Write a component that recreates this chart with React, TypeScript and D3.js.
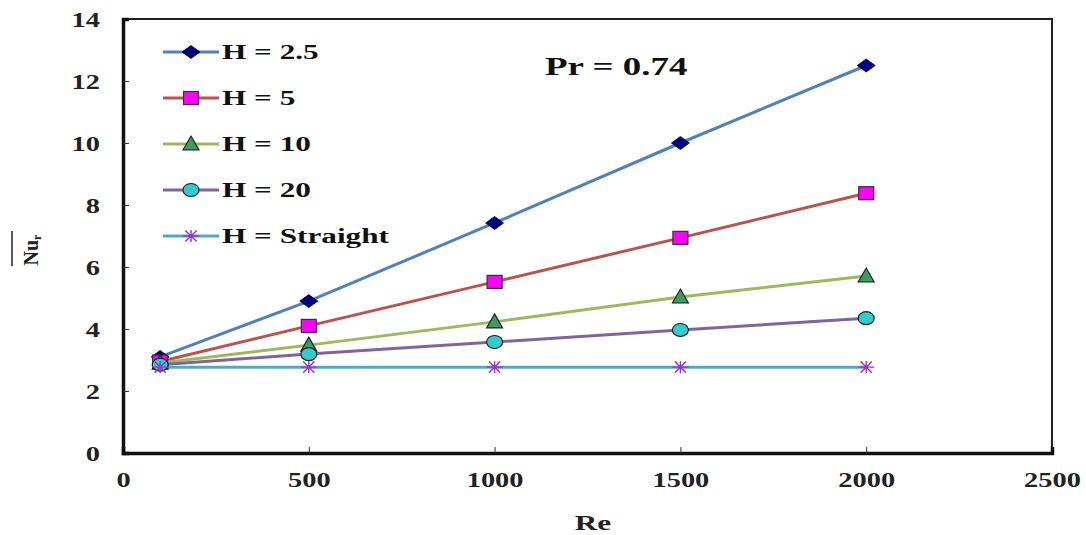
import { useEffect, useRef } from 'react'
import * as d3 from 'd3'

const reValues = [100, 500, 1000, 1500, 2000]
const seriesNames = ['H = 2.5', 'H = 5', 'H = 10', 'H = 20', 'H = Straight']
const nuH25 = [3.1, 4.9, 7.42, 10.0, 12.5]
const nuH5 = [2.95, 4.1, 5.52, 6.94, 8.38]
const nuH10 = [2.9, 3.48, 4.23, 5.03, 5.71]
const nuH20 = [2.85, 3.19, 3.58, 3.97, 4.35]
const nuStraight = [2.77, 2.77, 2.77, 2.77, 2.77]
const xTicks = [0, 500, 1000, 1500, 2000, 2500]
const yTicks = [0, 2, 4, 6, 8, 10, 12, 14]

const lineColors = ['#4F81BD', '#C0504D', '#9BBB59', '#8064A2', '#4BACC6']
const markerKinds = ['diamond', 'square', 'triangle', 'circle', 'asterisk']

const width = 1086
const height = 535
const margin = { top: 19, right: 34, bottom: 82, left: 123 }
const font = 'Liberation Serif, DejaVu Serif, serif'
// the original picture is stretched sideways, so text is widened too
const sx = 1.42

function drawMarker(g: d3.Selection<SVGGElement, unknown, null, undefined>, kind: string, x: number, y: number) {
  if (kind === 'diamond') {
    g.append('path')
      .attr('d', `M${x - 9},${y}L${x},${y - 6.5}L${x + 9},${y}L${x},${y + 6.5}Z`)
      .attr('fill', '#000080').attr('stroke', '#000040').attr('stroke-width', 0.8)
  } else if (kind === 'square') {
    g.append('rect')
      .attr('x', x - 7.5).attr('y', y - 6.5).attr('width', 15).attr('height', 13)
      .attr('fill', '#FF00FF').attr('stroke', '#333').attr('stroke-width', 1.2)
  } else if (kind === 'triangle') {
    g.append('path')
      .attr('d', `M${x},${y - 8}L${x + 8},${y + 6}L${x - 8},${y + 6}Z`)
      .attr('fill', '#3E9B63').attr('stroke', '#1a1a1a').attr('stroke-width', 1.1)
  } else if (kind === 'circle') {
    g.append('ellipse')
      .attr('cx', x).attr('cy', y).attr('rx', 8).attr('ry', 6.5)
      .attr('fill', '#33CCCC').attr('stroke', '#1a1a1a').attr('stroke-width', 1.1)
  } else {
    const r = 8
    const p = `M${x - r},${y}L${x + r},${y}M${x - r * 0.7},${y - r * 0.7}L${x + r * 0.7},${y + r * 0.7}M${x - r * 0.7},${y + r * 0.7}L${x + r * 0.7},${y - r * 0.7}M${x},${y - r * 0.75}L${x},${y + r * 0.75}`
    g.append('path').attr('d', p).attr('stroke', '#9933CC').attr('stroke-width', 1.4).attr('fill', 'none')
  }
}

export default function App() {
  const svgRef = useRef<SVGSVGElement>(null)

  useEffect(() => {
    if (!svgRef.current) return
    const svg = d3.select(svgRef.current)
    svg.selectAll('*').remove()

    const innerWidth = width - margin.left - margin.right
    const innerHeight = height - margin.top - margin.bottom
    const allSeries = [nuH25, nuH5, nuH10, nuH20, nuStraight]

    const x = d3.scaleLinear().domain([0, 2500]).range([0, innerWidth])
    const y = d3.scaleLinear().domain([0, 14]).range([innerHeight, 0])

    const g = svg.append('g')
      .attr('transform', `translate(${margin.left},${margin.top})`)

    // frame
    g.append('rect')
      .attr('width', innerWidth).attr('height', innerHeight)
      .attr('fill', 'none').attr('stroke', '#222').attr('stroke-width', 2)

    const xAxis = g.append('g')
      .attr('transform', `translate(0,${innerHeight})`)
      .call(d3.axisBottom(x).tickValues(xTicks).tickSize(-6).tickFormat(d3.format('d')))
    xAxis.select('.domain').attr('stroke', '#111').attr('stroke-width', 3.5)
    xAxis.selectAll('.tick text')
      .attr('y', null).attr('dy', null)
      .attr('transform', `translate(0,34) scale(${sx},1)`)

    const yAxis = g.append('g')
      .call(d3.axisLeft(y).tickValues(yTicks).tickSize(-6).tickFormat(d3.format('d')))
    yAxis.select('.domain').attr('stroke', '#111').attr('stroke-width', 3.5)
    yAxis.selectAll('.tick text')
      .attr('x', null).attr('dy', null)
      .attr('transform', `translate(-23,7) scale(${sx},1)`)

    svg.selectAll('.tick line').attr('stroke', '#333').attr('stroke-width', 1)
    svg.selectAll('.tick text')
      .attr('font-family', font).attr('font-size', 20).attr('font-weight', 'bold').attr('fill', '#222')
    xAxis.selectAll('.tick').filter((d: any) => d === 0 || d === 2500).select('line').remove()
    yAxis.selectAll('.tick').filter((d: any) => d === 0 || d === 14).select('line').remove()

    const line = d3.line<number>()
      .x((_, i) => x(reValues[i]))
      .y(d => y(d))

    allSeries.forEach((vals, si) => {
      g.append('path')
        .datum(vals)
        .attr('d', line)
        .attr('fill', 'none')
        .attr('stroke', lineColors[si])
        .attr('stroke-width', 3)
    })
    allSeries.forEach((vals, si) => {
      const mg = g.append('g')
      vals.forEach((v, i) => drawMarker(mg, markerKinds[si], x(reValues[i]), y(v)))
    })

    // legend
    const lg = svg.append('g').attr('transform', 'translate(163,52)')
    seriesNames.forEach((name, i) => {
      const row = lg.append('g').attr('transform', `translate(0,${i * 46})`)
      row.append('line').attr('x1', 0).attr('x2', 56).attr('y1', 0).attr('y2', 0)
        .attr('stroke', lineColors[i]).attr('stroke-width', 3)
      drawMarker(row, markerKinds[i], 28, 0)
      row.append('text').attr('transform', `translate(59,7) scale(${sx},1)`)
        .attr('font-family', font).attr('font-size', 22).attr('font-weight', 'bold').attr('fill', '#111')
        .text(name)
    })

    svg.append('text').attr('transform', `translate(545,75) scale(${sx},1)`)
      .attr('font-family', font).attr('font-size', 26).attr('font-weight', 'bold').attr('fill', '#111')
      .text('Pr = 0.74')

    svg.append('text').attr('transform', `translate(593,530) scale(${sx},1)`)
      .attr('font-family', font).attr('font-size', 22).attr('font-weight', 'bold').attr('fill', '#222')
      .attr('text-anchor', 'middle')
      .text('Re')

    // y label: Nu with overbar, subscript r
    const yl = svg.append('text')
      .attr('transform', 'translate(38,250) rotate(-90)')
      .attr('font-family', font).attr('font-size', 20).attr('font-weight', 'bold').attr('fill', '#222')
      .attr('text-anchor', 'middle')
    yl.append('tspan').text('Nu')
    yl.append('tspan').attr('font-size', 12).attr('dy', 3).text('r')
    svg.append('line').attr('x1', 12).attr('x2', 12).attr('y1', 231).attr('y2', 266)
      .attr('stroke', '#222').attr('stroke-width', 1.5)
  }, [])

  return (
    <svg ref={svgRef} width={width} height={height} style={{ position: 'absolute', left: 0, top: 0, background: '#fff' }} />
  )
}
